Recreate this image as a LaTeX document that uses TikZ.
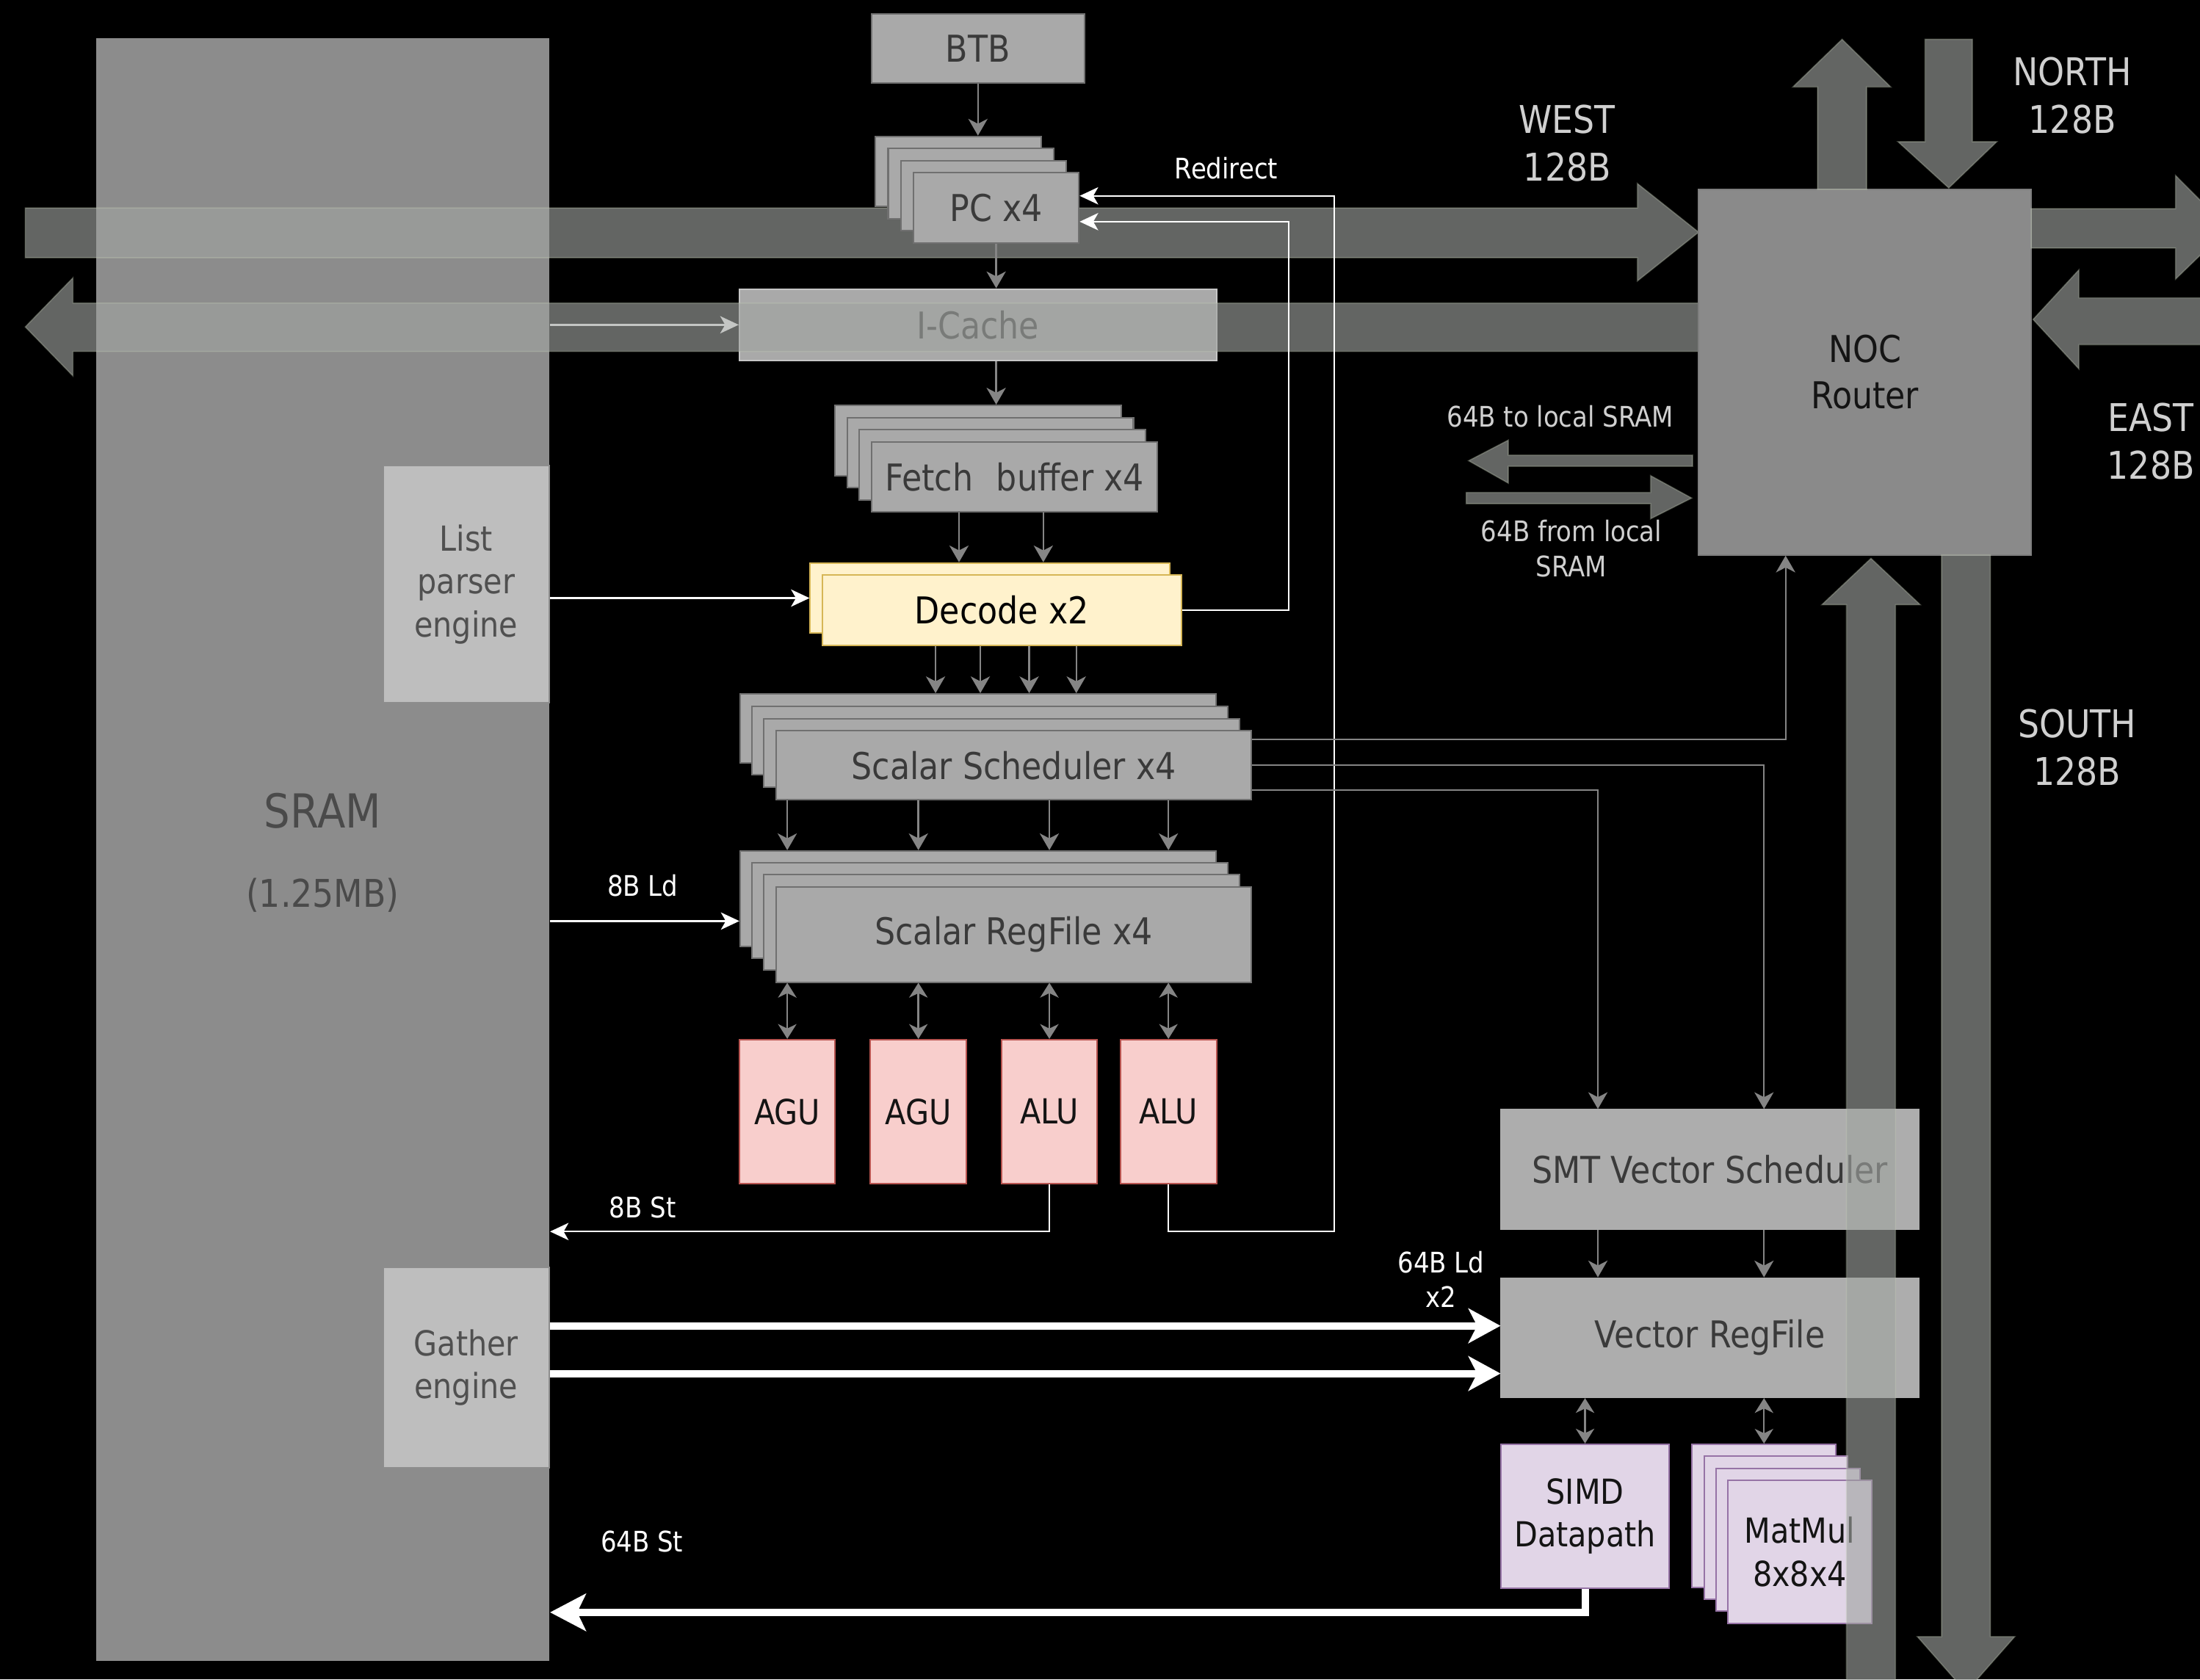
\documentclass[tikz,border=0pt]{standalone}
\usepackage{fontspec}
\setmainfont{DejaVu Sans}[FakeStretch=0.88]
\usetikzlibrary{arrows.meta, positioning, calc}
\definecolor{cBox}{HTML}{A9A9A9}
\definecolor{cBoxLine}{HTML}{707070}
\definecolor{cBoxText}{HTML}{3A3A3A}
\definecolor{cSram}{HTML}{8C8C8C}
\definecolor{cSramText}{HTML}{4A4A4A}
\definecolor{cEngine}{HTML}{BEBEBE}
\definecolor{cEngineText}{HTML}{505050}
\definecolor{cVec}{HTML}{ADADAD}
\definecolor{cNoc}{HTML}{8A8A8A}
\definecolor{cDecode}{HTML}{FFF2CC}
\definecolor{cDecodeLine}{HTML}{D6B656}
\definecolor{cExec}{HTML}{F8CECC}
\definecolor{cExecLine}{HTML}{B85450}
\definecolor{cMat}{HTML}{E1D5E7}
\definecolor{cMatLine}{HTML}{9673A6}
\definecolor{cBand}{RGB}{160,164,160}
\definecolor{cBandEdge}{RGB}{200,210,185}
\definecolor{cWire}{HTML}{858585}
\definecolor{cTag}{HTML}{D0D0D0}
\newcommand{\boxfont}{\fontsize{15}{18}\selectfont}
\newcommand{\unitfont}{\fontsize{14}{17.5}\selectfont}
\newcommand{\tagfont}{\fontsize{11.5}{14}\selectfont}
\newcommand{\dirfont}{\fontsize{15.5}{19.3}\selectfont}
\tikzset{
	% box from its left/top and right/bottom edges
	span/.style n args={4}{at={({((#1)+(#3))/2},{((#2)+(#4))/2})}, minimum width={((#3)-(#1))*0.2mm}, minimum height={((#4)-(#2))*0.2mm}},
	gbox/.style   ={rectangle, draw=cBoxLine, fill=cBox, line width=0.6pt, inner sep=0pt, text=cBoxText, font=\boxfont},
	vbox/.style   ={gbox, draw=cVec, fill=cVec},
	engine/.style ={gbox, draw=cBoxLine!80, fill=cEngine, text=cEngineText, font=\unitfont, align=center},
	nocbox/.style ={gbox, draw=cBoxLine!90, fill=cNoc, text=black!92, align=center, font=\fontsize{15}{18.7}\selectfont},
	decbox/.style ={gbox, draw=cDecodeLine, fill=cDecode, text=black},
	exec/.style   ={gbox, draw=cExecLine, fill=cExec, text=black!92, font=\unitfont},
	mat/.style    ={gbox, draw=cMatLine, fill=cMat, text=black!92, font=\unitfont, align=center},
	% link arrows
	band/.style   ={fill=cBand, fill opacity=0.62, draw=cBandEdge, draw opacity=0.3, line width=0.5pt},
	wire/.style   ={draw=cWire, line width=0.7pt, -{Stealth[length=6.8pt, width=7.8pt, inset=2pt]}},
	wirebi/.style ={draw=cWire, line width=0.7pt, {Stealth[length=6pt, width=7.5pt, inset=1.8pt]}-{Stealth[length=6pt, width=7.5pt, inset=1.8pt]}},
	sig/.style    ={draw=white, line width=0.7pt, -{Stealth[length=7.5pt, width=7pt, inset=2pt]}},
	fat/.style    ={draw=white, line width=3pt, -{Stealth[length=13pt, width=14pt, inset=3.5pt]}},
	% labels
	tag/.style    ={text=white, font=\tagfont, align=center},
	navtag/.style ={text=cTag, font=\tagfont, align=center},
	dirtag/.style ={text=cTag, font=\dirfont, align=center},
}
\begin{document}
\begin{tikzpicture}[x=0.2mm, y=-0.2mm]
	\useasboundingbox (0,0) rectangle (1568,1197);
	\fill[black] (0,0) rectangle (1568,1197);
	\clip (0,0) rectangle (1568,1197);
	% local memory
	\node[gbox, draw=none, fill=cSram, span={68.4}{27}{391.5}{1183.7}] (sram) {};
	\node[text=cSramText, font=\fontsize{19}{22}\selectfont] (sramname) at ($(sram.center)+(0,-27.4)$) {SRAM};
	\node[text=cSramText, font=\fontsize{15.5}{18}\selectfont] (sramsize) at ($(sram.center)+(0,32.6)$) {(1.25MB)};
	\node[engine, span={273}{332}{391.4}{501}] (lpe) {List\\ parser\\ engine};
	\node[engine, span={273}{903.5}{391.4}{1046}] (gth) {Gather\\ engine};
	\node[gbox, draw=cBoxLine!40, span={527}{206}{867}{257}] (icache) {I-Cache};
	\draw[sig] (sram.east |- icache.west) -- (icache.west);
	% west links
	\draw[band] (18,148.2) -- (1167,148.2) -- (1167,130.8) -- (1210.7,165.5) -- (1167,200.3) -- (1167,183.7) -- (18,183.7) -- cycle;
	\draw[band] (1210.7,216) -- (52,216) -- (52,198) -- (18,233) -- (52,268) -- (52,250.5) -- (1210.7,250.5) -- cycle;
	% fetch
	\node[gbox, span={621}{10}{773}{59}] (btb) {BTB};
	\foreach \k in {3,2,1}
		\node[gbox, span={651-9*\k}{123-8.6*\k}{769-9*\k}{173-8.6*\k}] (pc\k) {};
	\node[gbox, span={651}{123}{769}{173}] (pc) {PC x4};
	\foreach \k in {3,2,1}
		\node[gbox, span={621-8.6*\k}{315-8.7*\k}{825-8.6*\k}{365-8.7*\k}] (fb\k) {};
	\node[gbox, span={621}{315}{825}{365}] (fb) {Fetch\hspace{0.35em} buffer x4};
	\node[decbox, span={577.5}{401.3}{833.5}{451.3}] (dec1) {};
	\node[decbox, span={586}{410}{842}{460}] (dec) {Decode x2};
	\draw[wire] (btb.south) -- (btb.south |- pc3.north);
	\draw[wire] (pc.south) -- (pc.south |- icache.north);
	\draw[wire] (pc.south |- icache.south) -- (pc.south |- fb3.north);
	\foreach \dx [count=\i] in {-39.5,20.6} {
		\coordinate (fd\i) at ($(fb.south)+(\dx,0)$);
		\draw[wire] (fd\i) -- (fd\i |- dec1.north);
	}
	\draw[sig] (lpe.east |- dec1.west) -- (dec1.west);
	% scalar side
	\foreach \k in {3,2,1}
		\node[gbox, span={553-8.5*\k}{521-8.8*\k}{892-8.5*\k}{570-8.8*\k}] (sched\k) {};
	\node[gbox, span={553}{521}{892}{570}] (sched) {Scalar Scheduler x4};
	\foreach \k in {3,2,1}
		\node[gbox, span={553-8.5*\k}{632-8.5*\k}{892-8.5*\k}{700-8.5*\k}] (rf\k) {};
	\node[gbox, span={553}{632}{892}{700}] (rf) {Scalar RegFile x4};
	\foreach \dx [count=\i] in {-47.2,-15.3,19.5,53.1} {
		\coordinate (ds\i) at ($(dec.south)+(\dx,0)$);
		\draw[wire] (ds\i) -- (ds\i |- sched3.north);
	}
	\node[exec, span={527.2}{741}{595}{843.8}] (agu1) {AGU};
	\node[exec, span={620.3}{741}{688.8}{843.8}] (agu2) {AGU};
	\node[exec, span={713.8}{741}{782}{843.8}] (alu1) {ALU};
	\node[exec, span={798.5}{741}{867}{843.8}] (alu2) {ALU};
	\foreach \u in {agu1,agu2,alu1,alu2} {
		\draw[wire] (\u.north |- sched.south) -- (\u.north |- rf3.north);
		\draw[wirebi] (\u.north |- rf.south) -- (\u.north);
	}
	\coordinate (ldS) at ($(rf3.west)+(0,16)$);
	\draw[sig] (sram.east |- ldS) -- (ldS);
	\node[tag] (lbLd) at (458,631) {8B Ld};
	% redirect and store paths
	\coordinate (rdA) at (951,877.8);
	\coordinate (pcA) at ($(pc.east)+(0,-8.4)$);
	\coordinate (pcB) at ($(pc.east)+(0,10)$);
	\draw[sig] (alu1.south) |- (sram.east |- rdA);
	\draw[sig] (alu2.south) |- (rdA) |- (pcA);
	\draw[sig] (dec.east) -| ($(pcB)+(149,0)$) -- (pcB);
	\node[tag] (lbRedirect) at (874,120) {Redirect};
	\node[tag] (lbSt) at (458,860.5) {8B St};
	% router
	\node[nocbox, span={1210.7}{135}{1447.6}{395.5}] (noc) {NOC\\ Router};
	\draw[band] (1295.4,135) -- (1295.4,62) -- (1277.8,62) -- (1312.9,28) -- (1347.6,62) -- (1330.4,62) -- (1330.4,135) -- cycle;
	\draw[band] (1372,28) -- (1405.8,28) -- (1405.8,101) -- (1423.2,101) -- (1388.9,134) -- (1352.7,101) -- (1372,101) -- cycle;
	\draw[band] (1447.6,148.7) -- (1550.5,148.7) -- (1550.5,125) -- (1588,162.7) -- (1550.5,199) -- (1550.5,176.8) -- (1447.6,176.8) -- cycle;
	\draw[band] (1575,212.3) -- (1481.7,212.3) -- (1481.7,192.3) -- (1449,227.7) -- (1481.7,263) -- (1481.7,245.7) -- (1575,245.7) -- cycle;
	\draw[band] (1206.3,324.4) -- (1075,324.4) -- (1075,313.7) -- (1046.7,328.4) -- (1075,344.4) -- (1075,332.4) -- (1206.3,332.4) -- cycle;
	\draw[band] (1045,351) -- (1176.4,351) -- (1176.4,339) -- (1205.7,355) -- (1176.4,369.8) -- (1176.4,359) -- (1045,359) -- cycle;
	\node[dirtag] (lbWest) at (1117,102) {WEST\\128B};
	\node[dirtag] (lbNorth) at (1477,68) {NORTH\\128B};
	\node[dirtag] (lbEast) at (1533,314.5) {EAST\\128B};
	\node[dirtag] (lbSouth) at (1480.5,533) {SOUTH\\128B};
	\node[navtag] (lbToSram) at (1112,297) {64B to local SRAM};
	\node[navtag, font=\fontsize{11.5}{14.2}\selectfont] (lbFromSram) at (1120,391) {64B from local\\SRAM};
	% vector side
	\node[vbox, span={1070}{791}{1367.5}{876}] (smt) {SMT Vector Scheduler};
	\node[vbox, span={1070}{911}{1367.5}{996}] (vrf) {Vector RegFile};
	\node[mat, span={1070}{1029.4}{1189.4}{1132}] (simd) {SIMD\\ Datapath};
	\foreach \k in {3,2,1}
		\node[mat, span={1231.5-8.5*\k}{1055-8.5*\k}{1334-8.5*\k}{1157-8.5*\k}] (mm\k) {};
	\node[mat, span={1231.5}{1055}{1334}{1157}] (mm) {MatMul\\ 8x8x4};
	\draw[wire] ($(sched.east)+(0,-18.5)$) -| ($(noc.south)+(-56.5,0)$);
	\draw[wire] (sched.east) -| (mm3.north |- smt.north);
	\draw[wire] ($(sched.east)+(0,17.5)$) -| ($(smt.north)+(-79.9,0)$);
	\draw[wire] ($(smt.south)+(-79.9,0)$) -- ($(vrf.north)+(-79.9,0)$);
	\draw[wire] (mm3.north |- smt.south) -- (mm3.north |- vrf.north);
	\draw[wirebi] (simd.north |- vrf.south) -- (simd.north);
	\draw[wirebi] (mm3.north |- vrf.south) -- (mm3.north);
	\coordinate (ldV1) at ($(vrf.west)+(0,-8.5)$);
	\coordinate (ldV2) at ($(vrf.west)+(0,25.5)$);
	\draw[fat] (gth.east |- ldV1) -- (ldV1);
	\draw[fat] (gth.east |- ldV2) -- (ldV2);
	\coordinate (stV) at ($(simd.south)+(0,16.7)$);
	\draw[fat, -{Stealth[length=14.5pt, width=15pt, inset=3.5pt]}] (simd.south) -- (stV) -- (sram.east |- stV);
	\node[tag] (lbVld) at (1027,912) {64B Ld\\x2};
	\node[tag] (lbVst) at (457.5,1098.6) {64B St};
	% south links
	\draw[band] (1316,1205) -- (1316,431) -- (1298.5,431) -- (1333.5,398) -- (1368.6,431) -- (1351,431) -- (1351,1205) -- cycle;
	\draw[band] (1383.8,395.5) -- (1418.6,395.5) -- (1418.6,1166.5) -- (1436,1166.5) -- (1401.2,1206) -- (1366.5,1166.5) -- (1383.8,1166.5) -- cycle;
\end{tikzpicture}
\end{document}
